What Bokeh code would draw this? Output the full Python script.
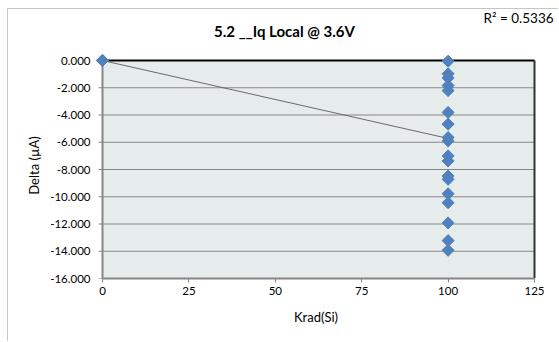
import numpy as np
from bokeh.plotting import figure
from bokeh.models import (FixedTicker, NumeralTickFormatter, Label, Range1d, BoxAnnotation)
from bokeh.embed import file_html
from bokeh.resources import INLINE

# ---- data ----
dose_pre = [0, 0, 0, 0, 0, 0, 0, 0, 0, 0, 0, 0, 0, 0, 0, 0, 0, 0]
delta_pre = [0.0] * 18
dose_post = [100] * 18
delta_post = [-0.05, -0.98, -1.28, -1.84, -2.21, -3.81, -4.67, -5.65, -5.90,
              -7.00, -7.37, -8.48, -8.72, -9.78, -10.44, -11.92, -13.22, -13.93]
trend_x = [0, 100]
trend_y = [0.0, -5.72]
x_ticks = [0, 25, 50, 75, 100, 125]
y_ticks = [-16, -14, -12, -10, -8, -6, -4, -2, 0]
title_text = "5.2 __Iq Local @ 3.6V"
r2_text = "R² = 0.5336"
x_label = "Krad(Si)"
y_label = "Delta (µA)"

FONT = "Lato"
X0, X1, Y0, Y1 = 0, 125, -16, 0          # plot-area axis limits
PW, PH = 432, 218                         # plot-area size in px
PAD_L, PAD_T, PAD_R = 8, 8, 3             # extra frame room so edge markers are not cut
ux = (X1 - X0) / PW                       # data units per px
uy = (Y1 - Y0) / PH
fx0 = X0 - PAD_L * ux
fx1 = X1 + PAD_R * ux
fy1 = Y1 + PAD_T * uy

W, H = 551, 333
FL, FT = 86, 43
FR = W - FL - (PW + PAD_L + PAD_R)
FB = H - FT - (PH + PAD_T)

p = figure(width=W, height=H, output_backend="svg", toolbar_location=None,
           x_range=Range1d(fx0, fx1), y_range=Range1d(Y0, fy1),
           min_border_left=FL, min_border_right=FR, min_border_top=FT, min_border_bottom=FB)
# light chart-area border on the left and top only (the rest lies outside the window)
p.styles = {"margin-left": "7px", "margin-top": "8px",
            "padding-left": "1px", "padding-top": "1px",
            "background-image": ("linear-gradient(to right, #c6c6c6 1px, rgba(255,255,255,0) 1px), "
                                 "linear-gradient(to bottom, #c6c6c6 1px, rgba(255,255,255,0) 1px)")}

p.background_fill_color = "white"
p.border_fill_color = "white"
p.outline_line_color = None
p.xgrid.grid_line_color = None
p.ygrid.grid_line_color = None

# plot area fill
p.add_layout(BoxAnnotation(left=X0, right=X1, bottom=Y0, top=Y1, fill_color="#E6EBEB",
                           fill_alpha=1.0, line_color=None, level="image"))

# horizontal gridlines at the y ticks
p.segment(x0=[X0] * len(y_ticks), x1=[X1] * len(y_ticks), y0=y_ticks, y1=y_ticks,
          line_color="#878787", line_width=1, level="underlay")

AX_COL = "#868686"
for ax in (p.xaxis[0], p.yaxis[0]):
    ax.major_tick_in = 0
    ax.minor_tick_line_color = None
    ax.major_label_text_font = FONT
    ax.major_label_text_font_size = "11.5px"
    ax.major_label_text_color = "black"
    ax.axis_label_text_font = FONT
    ax.axis_label_text_font_size = "13px"
    ax.axis_label_text_font_style = "normal"
    ax.axis_label_text_color = "black"

# x axis (bottom of the frame == bottom of the plot area)
p.xaxis.ticker = FixedTicker(ticks=x_ticks)
p.xaxis.bounds = (X0, X1)
p.xaxis.axis_line_color = AX_COL
p.xaxis.axis_line_width = 2
p.xaxis.major_tick_line_color = AX_COL
p.xaxis.major_tick_out = 4
p.xaxis.major_label_standoff = 4
p.xaxis.axis_label = x_label
p.xaxis.axis_label_standoff = 11

# y axis: labels from the axis; its line/ticks are drawn at x = X0 below
p.yaxis.ticker = FixedTicker(ticks=y_ticks)
p.yaxis.formatter = NumeralTickFormatter(format="0.000")
p.yaxis.axis_line_color = None
p.yaxis.major_tick_line_color = None
p.yaxis.major_tick_out = 0
p.yaxis.major_label_standoff = 4
p.yaxis.axis_label = y_label
p.yaxis.axis_label_standoff = 5

TICK = 4
p.segment(x0=[X0] * len(y_ticks), x1=[X0 - TICK * ux] * len(y_ticks), y0=y_ticks, y1=y_ticks,
          line_color=AX_COL, line_width=1)
p.segment(x0=[X0], x1=[X0], y0=[Y0 - 0.5 * uy], y1=[Y1], line_color=AX_COL, line_width=2)

# top (black) and right (dark) plot-area edges
p.segment(x0=[X0], x1=[X1], y0=[Y1], y1=[Y1], line_color="black", line_width=2)
p.segment(x0=[X1], x1=[X1], y0=[Y0], y1=[Y1], line_color="#333333", line_width=2)

# trend line
p.line(trend_x, trend_y, line_color="#6a6a6a", line_width=1)

# data points (diamonds)
MS = 8.5
p.scatter(dose_post, delta_post, marker="square", angle=np.pi / 4, size=MS,
          fill_color="#4F81BD", line_color="#4F81BD")
p.scatter(dose_pre, delta_pre, marker="square", angle=np.pi / 4, size=MS,
          fill_color="#4F81BD", line_color="#4F81BD")

# title and R^2 as labels in the top panel (screen px)
p.add_layout(Label(x=190, y=22, x_units="screen", y_units="screen", text=title_text,
                   text_font=FONT, text_font_size="15px", text_font_style="bold",
                   text_color="black", text_align="center", text_baseline="middle"), "above")
p.add_layout(Label(x=389, y=16.7, x_units="screen", y_units="screen", text=r2_text,
                   text_font=FONT, text_font_size="13.5px",
                   text_color="black", text_baseline="alphabetic"), "above")

open("out.html", "w").write(file_html(p, INLINE))
